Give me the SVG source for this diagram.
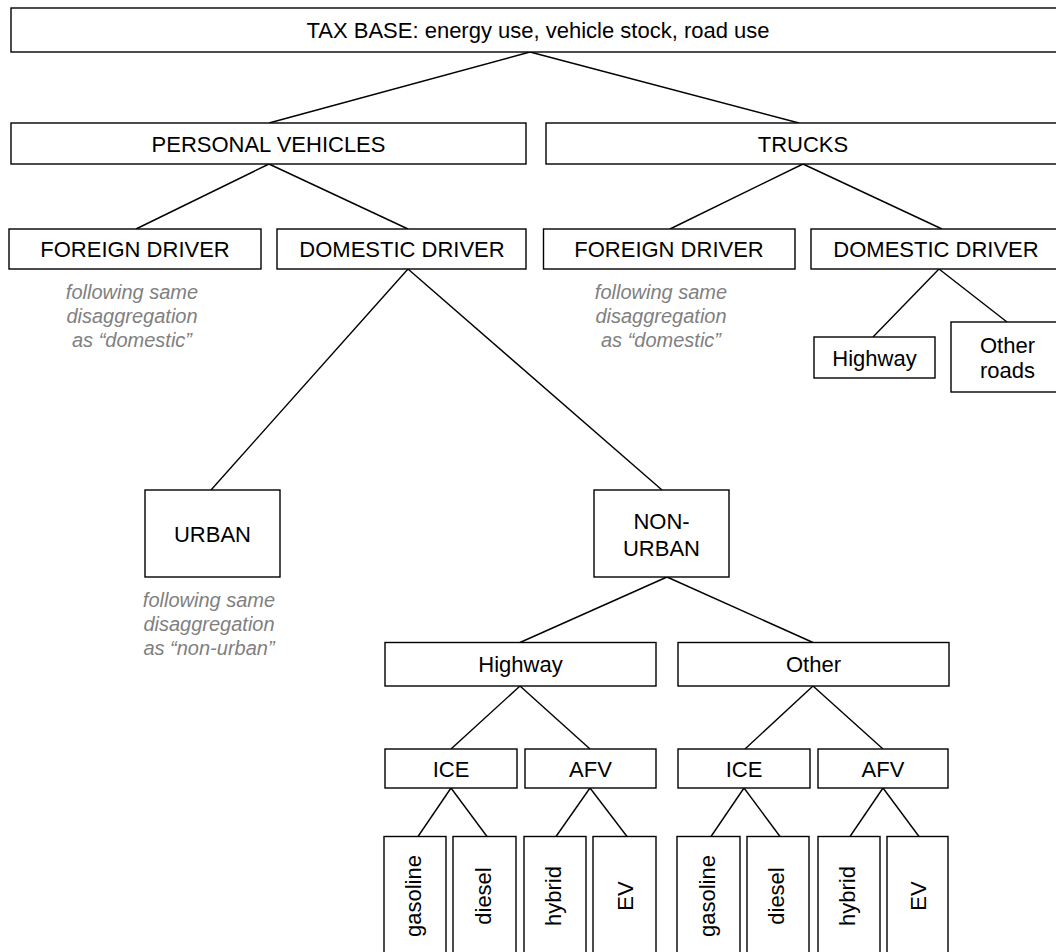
<svg xmlns="http://www.w3.org/2000/svg" width="1056" height="952" viewBox="0 0 1056 952">
<style>
.box{fill:#fff;stroke:#000;stroke-width:1.4}
.lbl{font-family:"Liberation Sans",Arial,sans-serif;font-size:22px;fill:#000;text-anchor:middle}
.note{font-family:"Liberation Sans",Arial,sans-serif;font-size:20px;font-style:italic;fill:#808080;text-anchor:middle}
.con line{stroke:#000;stroke-width:1.4}
</style>
<rect width="1056" height="952" fill="#fff"/>
<g id="connectors" class="con">
<line x1="530" y1="52" x2="269" y2="123"/>
<line x1="530" y1="52" x2="799" y2="123"/>
<line x1="269" y1="164" x2="136" y2="229"/>
<line x1="269" y1="164" x2="408" y2="229"/>
<line x1="803" y1="164" x2="670" y2="229"/>
<line x1="803" y1="164" x2="942" y2="229"/>
<line x1="939" y1="269" x2="873" y2="337"/>
<line x1="939" y1="269" x2="1007" y2="322"/>
<line x1="408" y1="269" x2="211" y2="490"/>
<line x1="408" y1="269" x2="662" y2="490"/>
<line x1="667" y1="577" x2="520" y2="642.5"/>
<line x1="667" y1="577" x2="813" y2="642.5"/>
<line x1="520" y1="686" x2="451" y2="749"/>
<line x1="520" y1="686" x2="590" y2="749"/>
<line x1="813" y1="686" x2="745" y2="749"/>
<line x1="813" y1="686" x2="883" y2="749"/>
<line x1="451" y1="788" x2="418" y2="836.5"/>
<line x1="451" y1="788" x2="487" y2="836.5"/>
<line x1="590" y1="788" x2="556" y2="836.5"/>
<line x1="590" y1="788" x2="627" y2="836.5"/>
<line x1="744" y1="788" x2="711" y2="836.5"/>
<line x1="744" y1="788" x2="780" y2="836.5"/>
<line x1="883" y1="788" x2="850" y2="836.5"/>
<line x1="883" y1="788" x2="919" y2="836.5"/>
</g>
<g id="tax-base"><rect class="box" x="11" y="8" width="1060" height="44"/><text class="lbl" x="538" y="38">TAX BASE: energy use, vehicle stock, road use</text></g>
<g id="personal-vehicles"><rect class="box" x="11" y="123" width="515" height="41"/><text class="lbl" x="268.5" y="151.5">PERSONAL VEHICLES</text></g>
<g id="trucks"><rect class="box" x="546" y="123" width="520" height="41"/><text class="lbl" x="803" y="151.5">TRUCKS</text></g>
<g id="pv-foreign"><rect class="box" x="9" y="229" width="252" height="40"/><text class="lbl" x="135" y="257">FOREIGN DRIVER</text></g>
<g id="pv-foreign-note"><text class="note" x="132" y="299">following same</text><text class="note" x="132" y="323">disaggregation</text><text class="note" x="132" y="347">as “domestic”</text></g>
<g id="pv-domestic"><rect class="box" x="277" y="229" width="249" height="40"/><text class="lbl" x="402" y="257">DOMESTIC DRIVER</text></g>
<g id="tr-foreign"><rect class="box" x="543.5" y="229" width="251.5" height="40"/><text class="lbl" x="669" y="257">FOREIGN DRIVER</text></g>
<g id="tr-foreign-note"><text class="note" x="661" y="299">following same</text><text class="note" x="661" y="323">disaggregation</text><text class="note" x="661" y="347">as “domestic”</text></g>
<g id="tr-domestic"><rect class="box" x="811" y="229" width="260" height="40"/><text class="lbl" x="936" y="257">DOMESTIC DRIVER</text></g>
<g id="tr-highway"><rect class="box" x="814" y="337" width="121" height="41"/><text class="lbl" x="874.5" y="365.5">Highway</text></g>
<g id="tr-other-roads"><rect class="box" x="951" y="322" width="115" height="70"/><text class="lbl" x="1007.5" y="353">Other</text><text class="lbl" x="1007.5" y="378">roads</text></g>
<g id="urban"><rect class="box" x="145" y="490" width="135" height="87"/><text class="lbl" x="212.5" y="541.5">URBAN</text></g>
<g id="urban-note"><text class="note" x="209" y="607">following same</text><text class="note" x="209" y="631">disaggregation</text><text class="note" x="209" y="655">as “non-urban”</text></g>
<g id="non-urban"><rect class="box" x="594" y="490" width="135" height="87"/><text class="lbl" x="661.5" y="529">NON-</text><text class="lbl" x="661.5" y="556">URBAN</text></g>
<g id="nu-highway"><rect class="box" x="385" y="642.5" width="271" height="43.5"/><text class="lbl" x="520.5" y="672">Highway</text></g>
<g id="nu-other"><rect class="box" x="678" y="642.5" width="271" height="43.5"/><text class="lbl" x="813.5" y="672">Other</text></g>
<g id="hw-ice"><rect class="box" x="385" y="749" width="132" height="39"/><text class="lbl" x="451" y="776.5">ICE</text></g>
<g id="hw-afv"><rect class="box" x="525" y="749" width="131" height="39"/><text class="lbl" x="590.5" y="776.5">AFV</text></g>
<g id="ot-ice"><rect class="box" x="678" y="749" width="132" height="39"/><text class="lbl" x="744" y="776.5">ICE</text></g>
<g id="ot-afv"><rect class="box" x="818" y="749" width="130" height="39"/><text class="lbl" x="883" y="776.5">AFV</text></g>
<g id="hw-gasoline"><rect class="box" x="384" y="836.5" width="62" height="130"/><text class="lbl" transform="translate(421 896) rotate(-90)">gasoline</text></g>
<g id="hw-diesel"><rect class="box" x="453" y="836.5" width="63" height="130"/><text class="lbl" transform="translate(490.5 896) rotate(-90)">diesel</text></g>
<g id="hw-hybrid"><rect class="box" x="524" y="836.5" width="62" height="130"/><text class="lbl" transform="translate(561 896) rotate(-90)">hybrid</text></g>
<g id="hw-ev"><rect class="box" x="593" y="836.5" width="63" height="130"/><text class="lbl" transform="translate(632.5 896) rotate(-90)">EV</text></g>
<g id="ot-gasoline"><rect class="box" x="677" y="836.5" width="63" height="130"/><text class="lbl" transform="translate(714.5 896) rotate(-90)">gasoline</text></g>
<g id="ot-diesel"><rect class="box" x="747" y="836.5" width="62" height="130"/><text class="lbl" transform="translate(784 896) rotate(-90)">diesel</text></g>
<g id="ot-hybrid"><rect class="box" x="818" y="836.5" width="62" height="130"/><text class="lbl" transform="translate(855 896) rotate(-90)">hybrid</text></g>
<g id="ot-ev"><rect class="box" x="887" y="836.5" width="61" height="130"/><text class="lbl" transform="translate(925.5 896) rotate(-90)">EV</text></g>
</svg>
